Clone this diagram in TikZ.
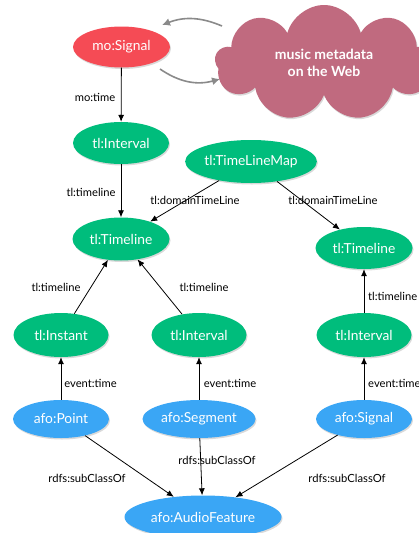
\documentclass[tikz,border=0pt]{standalone}
\usepackage{fontspec}
\setmainfont{Lato}
\usepackage{tikz}
\usetikzlibrary{arrows.meta}
\usetikzlibrary{shapes}
\usetikzlibrary{shadows}
\usepackage{xcolor}

\definecolor{moRed}{HTML}{F54B55}
\definecolor{tlGreen}{HTML}{00BD7C}
\definecolor{afoBlue}{HTML}{3AA6F5}
\definecolor{webPink}{HTML}{C06A7F}
\definecolor{linkGrey}{HTML}{8A8A8A}

\tikzset{
	cls/.style={ellipse,inner sep=0pt,text=white,font=\fontsize{13.8}{16}\selectfont,
		drop shadow={shadow xshift=1pt,shadow yshift=-1.5pt,opacity=0.3}},
	mo/.style={cls,fill=moRed},
	tl/.style={cls,fill=tlGreen},
	afo/.style={cls,fill=afoBlue},
	prop/.style={inner sep=1pt,font=\fontsize{11.2}{13}\selectfont},
	rel/.style={-{Latex[length=7pt,width=6pt]},line width=0.8pt},
	link/.style={-{Latex[length=8pt,width=8pt]},line width=1.6pt,draw=linkGrey}
}

\begin{document}
\begin{tikzpicture}[x=1pt,y=-1pt]
	\useasboundingbox (0,0) rectangle (419,533);
	% the outside world
	\node[cloud,cloud puffs=9,aspect=1.9,fill=webPink,inner sep=0pt,minimum width=218pt,minimum height=116pt,
		drop shadow={shadow xshift=1pt,shadow yshift=-1.5pt,opacity=0.3},
		text=white,align=center,font=\bfseries\fontsize{14}{17}\selectfont] (web) at (324,63) {music metadata\\on the Web};
	\node[mo,minimum width=97pt,minimum height=41pt] (signal) at (121.5,47) {mo:Signal};
	\coordinate (webout) at (222,26);
	\coordinate (signalin) at (162,25);
	\coordinate (signalout) at (160,69);
	\coordinate (webin) at (220,79);
	\draw[link] (webout) to[bend right=22] (signalin);
	\draw[link] (signalout) to[bend right=25] (webin);
	% timeline classes
	\node[tl,minimum width=96pt,minimum height=42pt] (interval) at (121,143) {tl:Interval};
	\node[tl,minimum width=130pt,minimum height=43pt] (timelinemap) at (251,161.5) {tl:TimeLineMap};
	\node[tl,minimum width=97pt,minimum height=43pt] (timeline) at (121,239) {tl:Timeline};
	\node[tl,minimum width=97pt,minimum height=42pt] (timelineB) at (364,248) {tl:Timeline};
	\node[tl,minimum width=95pt,minimum height=44pt] (instant) at (61,335) {tl:Instant};
	\node[tl,minimum width=95pt,minimum height=44pt] (intervalA) at (199,335) {tl:Interval};
	\node[tl,minimum width=95pt,minimum height=44pt] (intervalB) at (364,335) {tl:Interval};
	% audio features
	\node[afo,minimum width=96pt,minimum height=38pt] (point) at (61,419) {afo:Point};
	\node[afo,minimum width=113pt,minimum height=38pt] (segment) at (199,419) {afo:Segment};
	\node[afo,minimum width=96pt,minimum height=38pt] (afosignal) at (364,419) {afo:Signal};
	\node[afo,minimum width=157pt,minimum height=43pt] (audiofeature) at (203,517) {afo:AudioFeature};
	% properties
	\draw[rel] (signal) -- (interval);
	\draw[rel] (interval) -- (timeline);
	\draw[rel] (timelinemap) -- (timeline);
	\draw[rel] (timelinemap) -- (timelineB);
	\draw[rel] (instant) -- (timeline);
	\draw[rel] (intervalA) -- (timeline);
	\draw[rel] (intervalB) -- (timelineB);
	\draw[rel] (point) -- (instant);
	\draw[rel] (segment) -- (intervalA);
	\draw[rel] (afosignal) -- (intervalB);
	\draw[rel] (point) -- (audiofeature);
	\draw[rel] (segment) -- (audiofeature);
	\draw[rel] (afosignal) -- (audiofeature);
	\node[prop] (motime) at (95,97) {mo:time};
	\node[prop] (tltimeline) at (91,192) {tl:timeline};
	\node[prop] (domainA) at (195,200) {tl:domainTimeLine};
	\node[prop] (domainB) at (333,200) {tl:domainTimeLine};
	\node[prop] (tltimelineA) at (56,287) {tl:timeline};
	\node[prop] (tltimelineB) at (204,287) {tl:timeline};
	\node[prop,anchor=west] (tltimelineC) at (367,296) {tl:timeline};
	\node[prop] (eventtimeA) at (90.5,383) {event:time};
	\node[prop] (eventtimeB) at (230,383) {event:time};
	\node[prop,anchor=west] (eventtimeC) at (367,383) {event:time};
	\node[prop] (subclassA) at (87,478) {rdfs:subClassOf};
	\node[prop] (subclassB) at (217,460) {rdfs:subClassOf};
	\node[prop] (subclassC) at (347,478) {rdfs:subClassOf};
\end{tikzpicture}
\end{document}
